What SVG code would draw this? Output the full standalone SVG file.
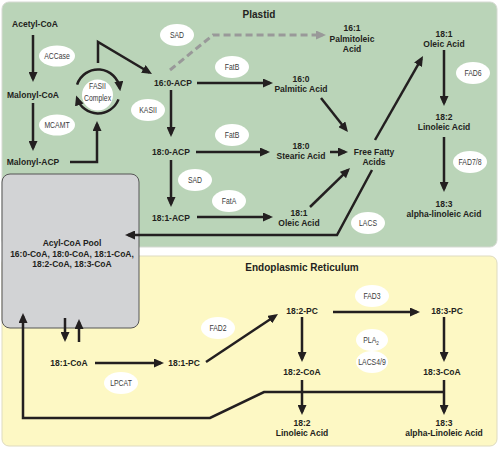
<svg xmlns="http://www.w3.org/2000/svg" width="500" height="449" viewBox="0 0 500 449">
<style>
.n{font-family:"Liberation Sans",Arial,sans-serif;font-weight:bold;font-size:8.5px;fill:#231f20;text-anchor:middle}
.t{font-family:"Liberation Sans",Arial,sans-serif;font-weight:bold;font-size:10px;fill:#231f20;text-anchor:middle}
.e{font-family:"Liberation Sans",Arial,sans-serif;font-size:8.2px;fill:#3a3a3a;text-anchor:middle}
.el{fill:#fff}
.c{fill:none;stroke:#231f20;stroke-width:2.5;marker-end:url(#ah)}
.d{fill:none;stroke:#999;stroke-width:3;stroke-dasharray:7 4;marker-end:url(#ahg)}
</style>
<defs>
<marker id="ah" viewBox="0 0 10 9" refX="7" refY="4.5" markerWidth="10" markerHeight="9" markerUnits="userSpaceOnUse" orient="auto"><path d="M0,0L10,4.5L0,9z" fill="#231f20"/></marker>
<marker id="ahg" viewBox="0 0 10 9" refX="7" refY="4.5" markerWidth="10" markerHeight="9" markerUnits="userSpaceOnUse" orient="auto"><path d="M0,0L10,4.5L0,9z" fill="#999"/></marker>
</defs>
<rect x="0" y="0" width="500" height="449" fill="#fff"/>
<g id="plastid">
<rect x="2" y="2" width="495" height="245" rx="7" fill="#bad4b8" stroke="#d5d9d2" stroke-width="1"/>
<text class="t" x="259" y="18">Plastid</text>
</g>
<g id="er">
<rect x="2" y="256" width="495" height="190" rx="7" fill="#fdf8c4" stroke="#dedbc0" stroke-width="1"/>
<text class="t" x="302" y="271">Endoplasmic Reticulum</text>
</g>
<g id="pool">
<rect x="2" y="174" width="137" height="154" rx="8" fill="#d2d3d5" stroke="#555" stroke-width="1"/>
<text class="n" x="72" y="246">Acyl-CoA Pool</text>
<text class="n" x="72" y="257">16:0-CoA, 18:0-CoA, 18:1-CoA,</text>
<text class="n" x="72" y="267">18:2-CoA, 18:3-CoA</text>
</g>
<g id="connectors">
<path class="c" d="M33,35V79"/>
<path class="c" d="M33,103V148"/>
<path class="c" d="M70,162H97V124"/>
<path class="c" d="M98,63V42L149.4,72.5"/>
<path class="d" d="M170,70L213,35H323"/>
<path class="c" d="M197,83H270"/>
<path class="c" d="M171,90V134"/>
<path class="c" d="M196,152H267"/>
<path class="c" d="M171,160V204"/>
<path class="c" d="M197,217H270"/>
<path class="c" d="M321,98L346.1,129.7"/>
<path class="c" d="M330,152H345"/>
<path class="c" d="M310,207L347.9,170.1"/>
<path class="c" d="M375,140L421.5,58.6"/>
<path class="c" d="M444,50V103"/>
<path class="c" d="M444,137V189"/>
<path class="c" d="M372,170L337,235H128"/>
<path class="c" d="M65,318V339"/>
<path class="c" d="M79,342V322"/>
<path class="c" d="M95,363H161"/>
<path class="c" d="M206,362L275.5,315.7"/>
<path class="c" d="M333,312H417"/>
<path class="c" d="M302,317V359"/>
<path class="c" d="M444,317V359"/>
<path class="c" d="M302,380V412"/>
<path class="c" d="M444,380V412"/>
<path class="c" d="M444,392H264L210,418H23V316"/>
</g>
<g id="fasii">
<circle cx="97.5" cy="95" r="15.5" class="el"/>
<path class="c" d="M77.1,84.7A22,22 0 0 1 119.8,88.4"/>
<path class="c" d="M118.5,99.4A22,22 0 0 1 77.1,98.3"/>
<text class="e" transform="translate(97.5,89) scale(0.84,1)">FASII</text>
<text class="e" transform="translate(97.5,100.5) scale(0.84,1)">Complex</text>
</g>
<g id="acetylcoa"><text class="n" x="35" y="27">Acetyl-CoA</text></g>
<g id="malonylcoa"><text class="n" x="33" y="98">Malonyl-CoA</text></g>
<g id="malonylacp"><text class="n" x="33" y="165">Malonyl-ACP</text></g>
<g id="acp160"><text class="n" x="173" y="86">16:0-ACP</text></g>
<g id="acp180"><text class="n" x="171" y="155">18:0-ACP</text></g>
<g id="acp181"><text class="n" x="171" y="221">18:1-ACP</text></g>
<g id="palmitoleic"><text class="n" x="352" y="31">16:1</text><text class="n" x="352" y="42">Palmitoleic</text><text class="n" x="352" y="52">Acid</text></g>
<g id="palmitic"><text class="n" x="301" y="82">16:0</text><text class="n" x="301" y="92">Palmitic Acid</text></g>
<g id="stearic"><text class="n" x="301" y="149">18:0</text><text class="n" x="301" y="159">Stearic Acid</text></g>
<g id="oleic1"><text class="n" x="299" y="216">18:1</text><text class="n" x="299" y="226">Oleic Acid</text></g>
<g id="ffa"><text class="n" x="374" y="155">Free Fatty</text><text class="n" x="374" y="165">Acids</text></g>
<g id="oleic2"><text class="n" x="444" y="37">18:1</text><text class="n" x="444" y="47">Oleic Acid</text></g>
<g id="linoleic1"><text class="n" x="444" y="120">18:2</text><text class="n" x="444" y="130">Linoleic Acid</text></g>
<g id="linolenic1"><text class="n" x="444" y="207">18:3</text><text class="n" x="444" y="217">alpha-linoleic Acid</text></g>
<g id="coa181"><text class="n" x="69" y="366">18:1-CoA</text></g>
<g id="pc181"><text class="n" x="184" y="366">18:1-PC</text></g>
<g id="pc182"><text class="n" x="302" y="314">18:2-PC</text></g>
<g id="pc183"><text class="n" x="447" y="314">18:3-PC</text></g>
<g id="coa182"><text class="n" x="302" y="375">18:2-CoA</text></g>
<g id="coa183"><text class="n" x="442" y="375">18:3-CoA</text></g>
<g id="linoleic2"><text class="n" x="302" y="426">18:2</text><text class="n" x="302" y="436">Linoleic Acid</text></g>
<g id="linolenic2"><text class="n" x="444" y="426">18:3</text><text class="n" x="444" y="436">alpha-Linoleic Acid</text></g>
<g id="enzymes">
<g id="e-sad1"><ellipse class="el" cx="177" cy="35" rx="17" ry="11"/><text class="e" transform="translate(177,38) scale(0.84,1)">SAD</text></g>
<g id="e-accase"><ellipse class="el" cx="57" cy="56" rx="18" ry="10.5"/><text class="e" transform="translate(57,59) scale(0.84,1)">ACCase</text></g>
<g id="e-mcamt"><ellipse class="el" cx="57" cy="125" rx="18" ry="10.5"/><text class="e" transform="translate(57,128) scale(0.84,1)">MCAMT</text></g>
<g id="e-fatb1"><ellipse class="el" cx="232" cy="67" rx="17" ry="11"/><text class="e" transform="translate(232,70) scale(0.84,1)">FatB</text></g>
<g id="e-kasii"><ellipse class="el" cx="148" cy="110" rx="17" ry="11"/><text class="e" transform="translate(148,113) scale(0.84,1)">KASII</text></g>
<g id="e-fatb2"><ellipse class="el" cx="232" cy="135" rx="17" ry="11"/><text class="e" transform="translate(232,138) scale(0.84,1)">FatB</text></g>
<g id="e-sad2"><ellipse class="el" cx="195" cy="180" rx="17" ry="11"/><text class="e" transform="translate(195,183) scale(0.84,1)">SAD</text></g>
<g id="e-fata"><ellipse class="el" cx="229" cy="201" rx="17" ry="11"/><text class="e" transform="translate(229,204) scale(0.84,1)">FatA</text></g>
<g id="e-fad6"><ellipse class="el" cx="473" cy="73" rx="17" ry="11"/><text class="e" transform="translate(473,76) scale(0.84,1)">FAD6</text></g>
<g id="e-fad78"><ellipse class="el" cx="470" cy="162" rx="17" ry="11"/><text class="e" transform="translate(470,165) scale(0.84,1)">FAD7/8</text></g>
<g id="e-lacs"><ellipse class="el" cx="368" cy="223" rx="17" ry="11"/><text class="e" transform="translate(368,226) scale(0.84,1)">LACS</text></g>
<g id="e-fad3"><ellipse class="el" cx="372" cy="296" rx="17" ry="11"/><text class="e" transform="translate(372,299) scale(0.84,1)">FAD3</text></g>
<g id="e-fad2"><ellipse class="el" cx="218" cy="328" rx="17" ry="11"/><text class="e" transform="translate(218,331) scale(0.84,1)">FAD2</text></g>
<g id="e-lpcat"><ellipse class="el" cx="121" cy="383" rx="17" ry="11"/><text class="e" transform="translate(121,386) scale(0.84,1)">LPCAT</text></g>
<g id="e-pla2"><ellipse class="el" cx="372" cy="340" rx="16" ry="11"/><text class="e" transform="translate(371,342.5) scale(0.84,1)">PLA<tspan font-size="5.5" dy="2">2</tspan></text></g>
<g id="e-lacs49"><ellipse class="el" cx="372" cy="362" rx="16" ry="11"/><text class="e" transform="translate(372,365) scale(0.84,1)">LACS4/9</text></g>
</g>
</svg>
